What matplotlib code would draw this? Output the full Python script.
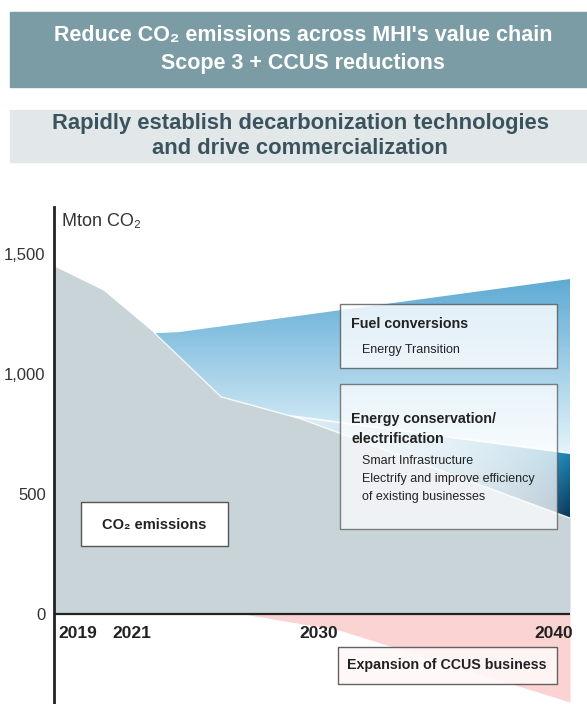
import numpy as np
import matplotlib.pyplot as plt
from matplotlib.patches import Rectangle
from matplotlib.colors import to_rgb

# values (Mton CO2)
years_em = [2019, 2021, 2023.1, 2025.8, 2029, 2040]
emissions = [1450, 1350, 1170, 905, 815, 400]

fuel_years = [2023.1, 2024.1, 2040]
fuel_top = [1170, 1175, 1396]

wedge_years = [2028.6, 2040]
wedge_top = [826, 670]

ccus_years = [2026.7, 2030.6, 2040]
ccus = [0, -67, -367]

yticks = [0, 500, 1000, 1500]
ytick_labels = ["0", "500", "1,000", "1,500"]
year_labels = ["2019", "2021", "2030", "2040"]

W, H = 587, 704
FONT = ['Liberation Sans', 'DejaVu Sans']
TXT = '#222222'


def fx(px):
    return px / W


def fy(py):
    return 1 - py / H


fig = plt.figure(figsize=(W / 100, H / 100), dpi=100)

# header banners
fig.patches.append(Rectangle((fx(10), fy(87)), fx(577), 75 / H, transform=fig.transFigure,
                             color='#7b9ca5', zorder=0))
fig.text(fx(303), fy(36), "Reduce CO₂ emissions across MHI's value chain", color='white',
         family=FONT, weight='bold', fontsize=15.5, ha='center', va='center')
fig.text(fx(303), fy(64), "Scope 3 + CCUS reductions", color='white',
         family=FONT, weight='bold', fontsize=15.5, ha='center', va='center')
fig.patches.append(Rectangle((fx(10), fy(162)), fx(577), 52 / H, transform=fig.transFigure,
                             color='#e2e7ea', zorder=0))
fig.text(fx(300), fy(124), "Rapidly establish decarbonization technologies", color='#3b535d',
         family=FONT, weight='bold', fontsize=15.8, ha='center', va='center')
fig.text(fx(300), fy(148), "and drive commercialization", color='#3b535d',
         family=FONT, weight='bold', fontsize=15.8, ha='center', va='center')

ax = fig.add_axes([fx(54), 0, (570 - 54) / W, (704 - 207) / H])
ax.patch.set_alpha(0)
x0, x1, y0, y1 = 2019, 2040, -375, 1696

# fuel conversion area (vertical blue gradient)
xs = np.linspace(fuel_years[0], 2040, 400)
low = np.interp(xs, years_em, emissions)
up = np.interp(xs, fuel_years, fuel_top)
poly = ax.fill_between(xs, low, up, color='none', lw=0)
vv = np.linspace(y0, y1, 400)
t = np.clip((vv - 650) / (1400 - 650), 0, 1)[:, None]
c_lo, c_hi = np.array(to_rgb('#e8f6fc')), np.array(to_rgb('#5eaad4'))
grad = c_lo * (1 - t[..., None]) + c_hi * t[..., None]
grad = np.repeat(grad, 10, axis=1)
im = ax.imshow(grad, extent=[x0, x1, y0, y1], origin='lower', aspect='auto', zorder=1)
im.set_clip_path(poly.get_paths()[0], transform=ax.transData)

# energy conservation wedge (darkens to the right)
xs2 = np.linspace(wedge_years[0], 2040, 400)
low2 = np.interp(xs2, years_em, emissions)
up2 = np.interp(xs2, wedge_years, wedge_top)
poly2 = ax.fill_between(xs2, low2, up2, color='none', lw=0)
gx = np.linspace(x0, x1, 500)
gy = np.linspace(y0, y1, 500)
GX, GY = np.meshgrid(gx, gy)
tx = np.clip((GX - wedge_years[0]) / (2040 - wedge_years[0]), 0, 1) ** 2
sy = np.clip((GY - 400) / (690 - 400), 0, 1)
light = np.array(to_rgb('#dcecf4'))
teal = np.array(to_rgb('#1c88b8'))
navy = np.array(to_rgb('#06365a'))
dark = navy * (1 - sy[..., None]) + teal * sy[..., None]
grad2 = light * (1 - tx[..., None]) + dark * tx[..., None]
im2 = ax.imshow(grad2, extent=[x0, x1, y0, y1], origin='lower', aspect='auto', zorder=2)
im2.set_clip_path(poly2.get_paths()[0], transform=ax.transData)
ax.plot(wedge_years, wedge_top, color='white', lw=1.2, alpha=0.9, zorder=2.5)

# CO2 emissions and CCUS
ax.fill_between(years_em, emissions, 0, color='#c9d4d8', lw=0, zorder=3)
ax.plot(years_em[2:], emissions[2:], color='white', lw=1, alpha=0.8, zorder=3.5)
ax.fill_between(ccus_years, ccus, 0, color='#fbd3d3', lw=0, zorder=3)

ax.set_xlim(x0, x1)
ax.set_ylim(y0, y1)
ax.axhline(0, color=TXT, lw=1.6, zorder=4)
for s in ['top', 'right', 'bottom']:
    ax.spines[s].set_visible(False)
ax.spines['left'].set_color(TXT)
ax.spines['left'].set_linewidth(2)
ax.spines['left'].set_zorder(5)
ax.set_xticks([])
ax.set_yticks(yticks)
ax.set_yticklabels(ytick_labels, family=FONT, fontsize=12, color='#333333')
ax.tick_params(axis='y', length=0, pad=6)

ax.text(0.015, 1 - 6 / 497, "Mton CO₂", transform=ax.transAxes, family=FONT, fontsize=13,
        color='#333333', ha='left', va='top')

# year labels under the zero line
for lab, px, ha in zip(year_labels, [58, 112, 319, 573], ['left', 'left', 'center', 'right']):
    fig.text(fx(px), fy(634), lab, family=FONT, weight='bold', fontsize=12.5, color=TXT,
             ha=ha, va='center', zorder=11)


def box(l, t, r, b, fc='white', alpha=1.0):
    fig.patches.append(Rectangle((fx(l), fy(b)), (r - l) / W, (b - t) / H, transform=fig.transFigure,
                                 facecolor=fc, edgecolor='#555555', lw=1, alpha=alpha, zorder=10))


def label(px, py, s, bold=True, size=10.3, ha='left'):
    fig.text(fx(px), fy(py), s, family=FONT, weight='bold' if bold else 'normal', fontsize=size,
             color=TXT, ha=ha, va='center', zorder=11)


box(340, 304, 557, 368, fc='white', alpha=0.8)
label(351, 324, "Fuel conversions")
label(362, 350, "Energy Transition", bold=False, size=9)

box(340, 384, 557, 529, fc='white', alpha=0.72)
label(351, 419, "Energy conservation/")
label(351, 439, "electrification")
label(362, 461, "Smart Infrastructure", bold=False, size=9)
label(362, 479, "Electrify and improve efficiency", bold=False, size=9)
label(362, 497, "of existing businesses", bold=False, size=9)

box(81, 502, 228, 546)
label(154.5, 525, "CO₂ emissions", ha='center', size=10.5)

box(338, 647, 557, 684, fc='#fff8f8', alpha=0.92)
label(447, 665, "Expansion of CCUS business", ha='center', size=10.3)

fig.savefig('out.png', dpi=100)
